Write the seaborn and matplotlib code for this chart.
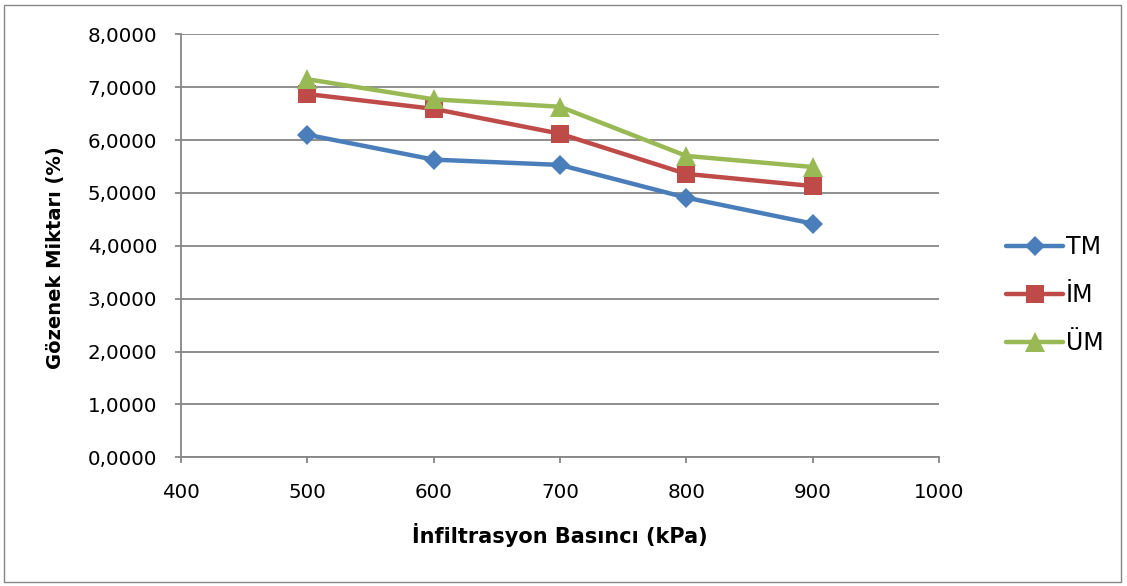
import matplotlib
matplotlib.use("Agg")
import matplotlib.pyplot as plt
from matplotlib.patches import Rectangle
from matplotlib.ticker import FuncFormatter, MultipleLocator
import seaborn as sns
import pandas as pd

# Infiltration pressure (kPa) and porosity (%) for each specimen group
pressure = [500, 600, 700, 800, 900]
tm = [6.10, 5.63, 5.53, 4.91, 4.42]
im = [6.87, 6.59, 6.12, 5.36, 5.13]
um = [7.15, 6.77, 6.63, 5.70, 5.49]
series_names = ["TM", "İM", "ÜM"]

colors = ["#4A7EBB", "#BE4B48", "#98B954"]
markers = ["D", "s", "^"]
marker_sizes = [10, 13, 14]

df = pd.DataFrame({
    "pressure": pressure * 3,
    "value": tm + im + um,
    "series": [s for s in series_names for _ in pressure],
})

sns.set_theme(style="white")
plt.rcParams["font.family"] = ["DejaVu Sans"]
plt.rcParams["text.color"] = "black"

fig = plt.figure(figsize=(11.27, 5.86), dpi=100)
ax = fig.add_axes([0.1606, 0.2195, 0.8332 - 0.1606, 0.9415 - 0.2195])

sns.lineplot(data=df, x="pressure", y="value", hue="series",
             hue_order=series_names, palette=colors, markers=markers,
             style="series", style_order=series_names, dashes=False,
             linewidth=3.2, markeredgewidth=0, ax=ax, legend=False)

# per-series marker sizes
for line, ms in zip(ax.get_lines(), marker_sizes):
    line.set_markersize(ms)

ax.set_xlim(400, 1000)
ax.set_ylim(0, 8)
ax.xaxis.set_major_locator(MultipleLocator(100))
ax.yaxis.set_major_locator(MultipleLocator(1))
ax.yaxis.set_major_formatter(FuncFormatter(lambda v, p: f"{v:.4f}".replace(".", ",")))

ax.grid(axis="y", color="#868686", linewidth=1.3)
ax.grid(axis="x", visible=False)
ax.set_axisbelow(True)
for side in ["top", "right"]:
    ax.spines[side].set_visible(False)
for side in ["left", "bottom"]:
    ax.spines[side].set_color("#868686")
    ax.spines[side].set_linewidth(1.3)
ax.tick_params(axis="both", direction="out", length=4.5, width=1.3,
               color="#868686", labelsize=14.3, labelcolor="black",
               bottom=True, left=True)
ax.tick_params(axis="x", pad=14)
ax.tick_params(axis="y", pad=12.5)

ax.set_xlabel("İnfiltrasyon Basıncı (kPa)", fontsize=15, fontweight="bold", color="black")
ax.set_ylabel("Gözenek Miktarı (%)", fontsize=14, fontweight="bold", color="black")
ax.xaxis.set_label_coords(0.5, -0.155)
ax.yaxis.set_label_coords(-0.153, 0.471)

handles = [plt.Line2D([], [], color=c, marker=m, markersize=ms, linewidth=3.2,
                      markeredgewidth=0)
           for c, m, ms in zip(colors, markers, marker_sizes)]
leg = fig.legend(handles, series_names, loc="center left", bbox_to_anchor=(0.874, 0.496),
                 frameon=False, fontsize=17, handlelength=2.4, handletextpad=0.13,
                 labelspacing=1.02)
for t in leg.get_texts():
    t.set_color("black")

fig.add_artist(Rectangle((0.0035, 0.007), 0.991, 0.984, transform=fig.transFigure,
                         fill=False, edgecolor="#868686", linewidth=1))

fig.savefig("out.png", dpi=100, facecolor="white")
